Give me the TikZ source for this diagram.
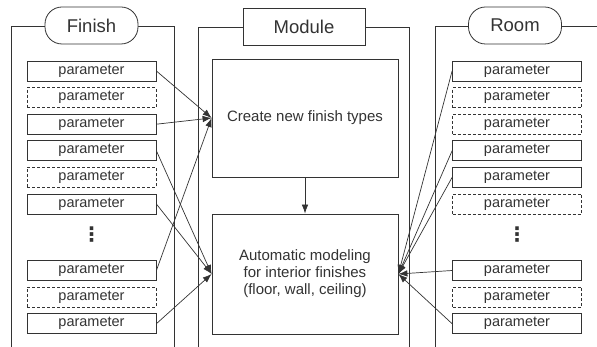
\documentclass[tikz,border=0pt]{standalone}
\usepackage{fontspec}
\setmainfont{Liberation Sans}
\newfontfamily\symfont{DejaVu Sans}
\usetikzlibrary{arrows.meta}
\definecolor{ink}{HTML}{333333}
\tikzset{
  px/.style={x=1pt,y=-1pt},
  frame/.style={draw=ink,line width=0.8pt},
  pill/.style={draw=ink,line width=0.8pt,fill=white,rounded corners=17pt,
    minimum width=93pt,minimum height=37pt,inner sep=0pt,font=\fontsize{18.5}{18.5}\selectfont,text=ink},
  titlebox/.style={draw=ink,line width=0.8pt,fill=white,
    minimum width=122pt,minimum height=37pt,inner sep=0pt,font=\fontsize{18.5}{18.5}\selectfont,text=ink},
  parbox/.style={draw=ink,line width=0.8pt,minimum width=129pt,minimum height=20pt,
    inner sep=0pt,font=\fontsize{14.5}{14.5}\selectfont,text=ink},
  optbox/.style={parbox,dash pattern=on 3pt off 2pt},
  ellip/.style={text=ink,inner sep=0pt,font=\symfont\bfseries\fontsize{20}{20}\selectfont},
  modbox/.style={draw=ink,line width=0.8pt,minimum width=186pt,inner sep=0pt,
    align=center,font=\fontsize{15}{17}\selectfont,text=ink},
  link/.style={draw=ink,line width=0.7pt,-{Latex[length=9pt,width=6.5pt]}},
}
\begin{document}
\begin{tikzpicture}[px]
\useasboundingbox (0,0) rectangle (597,347);

% panel outlines (open at the bottom)
\draw[frame] (11,347) -- (11,26) -- (174,26) -- (174,347);
\draw[frame] (198,347) -- (198,27) -- (409,27) -- (409,347);
\draw[frame] (435,347) -- (435,26) -- (600,26);

% panel titles
\node[pill] (finish) at (91.5,25.5) {Finish};
\node[titlebox] (module) at (304,26.5) {Module};
\node[pill] (room) at (515,25.5) {Room};

% Finish parameters
\node[parbox] (L1) at (91.5,71) {parameter};
\node[optbox] (L2) at (91.5,97.6) {parameter};
\node[parbox] (L3) at (91.5,124.2) {parameter};
\node[parbox] (L4) at (91.5,150.8) {parameter};
\node[optbox] (L5) at (91.5,177.4) {parameter};
\node[parbox] (L6) at (91.5,204) {parameter};
\node[ellip] (Ldots) at (91.5,235) {⋮};
\node[parbox] (L7) at (91.5,270.5) {parameter};
\node[optbox] (L8) at (91.5,297.1) {parameter};
\node[parbox] (L9) at (91.5,323.7) {parameter};

% Room parameters
\node[parbox] (R1) at (517,71) {parameter};
\node[optbox] (R2) at (517,97.6) {parameter};
\node[optbox] (R3) at (517,124.2) {parameter};
\node[parbox] (R4) at (517,150.8) {parameter};
\node[parbox] (R5) at (517,177.4) {parameter};
\node[optbox] (R6) at (517,204) {parameter};
\node[ellip] (Rdots) at (517,235) {⋮};
\node[parbox] (R7) at (517,270.5) {parameter};
\node[optbox] (R8) at (517,297.1) {parameter};
\node[parbox] (R9) at (517,323.7) {parameter};

% module steps
\node[modbox,minimum height=118pt] (create) at (305,118) {Create new finish types};
\node[modbox,minimum height=120pt] (auto) at (305,274)
  {Automatic modeling\\for interior finishes\\(floor, wall, ceiling)};

% connectors
\draw[link] (create.south) -- (auto.north);
\foreach \p in {L1,L3,L7} \draw[link] (\p.east) -- (create.west);
\foreach \p in {L4,L6,L9} \draw[link] (\p.east) -- (auto.west);
\foreach \p in {R1,R4,R5,R7,R9} \draw[link] (\p.west) -- (auto.east);
\end{tikzpicture}
\end{document}
